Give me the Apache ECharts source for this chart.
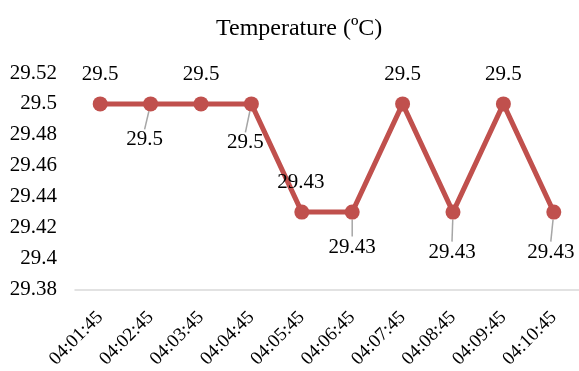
<!DOCTYPE html>
<html>
<head>
<meta charset="utf-8">
<script src="https://cdn.jsdelivr.net/npm/echarts@6/dist/echarts.min.js"></script>
<style>html,body{margin:0;padding:0;background:#fff}#c{width:579px;height:371px}</style>
</head>
<body>
<div id="c"></div>
<script>
const categories = ['04:01:45','04:02:45','04:03:45','04:04:45','04:05:45','04:06:45','04:07:45','04:08:45','04:09:45','04:10:45'];
const temperature = [29.5, 29.5, 29.5, 29.5, 29.43, 29.43, 29.5, 29.43, 29.5, 29.43];
const yMin = 29.38, yMax = 29.52, yStep = 0.02;
const titleText = 'Temperature (ºC)';

// label placement relative to point centre (style only)
const labelOffsets = [[0,-29],[-6,36],[0,-29],[-6,39],[-1,-30],[0,35],[0,-29],[-1,40],[0,-29],[-3,40]];
const font = 'Liberation Serif, Times New Roman, serif';

const chart = echarts.init(document.getElementById('c'), null, {renderer:'canvas'});
chart.setOption({
  backgroundColor: '#fff',
  animation: false,
  title: {
    text: titleText, left: 211, top: 12,
    textStyle: {fontFamily: font, fontSize: 24, fontWeight: 'normal', color: '#000'}
  },
  grid: {left: 75, top: 73, width: 505, height: 218, containLabel: false},
  xAxis: {
    type: 'category', data: categories, boundaryGap: true,
    axisLine: {lineStyle: {color: '#d9d9d9', width: 1.5}},
    axisTick: {show: false},
    axisLabel: {rotate: 45, fontFamily: font, fontSize: 19, color: '#000', margin: 25, interval: 0}
  },
  yAxis: {
    type: 'value', min: yMin, max: yMax, interval: yStep,
    axisLine: {show: false}, axisTick: {show: false}, splitLine: {show: false},
    axisLabel: {fontFamily: font, fontSize: 21, color: '#000', margin: 18,
      formatter: v => String(parseFloat(v.toFixed(2)))}
  },
  series: [{
    type: 'line',
    data: temperature.map((v, i) => ({
      value: v,
      labelLine: {show: labelOffsets[i][1] > 0}
    })),
    symbol: 'circle', symbolSize: 15,
    itemStyle: {color: '#c0504d'},
    lineStyle: {color: '#c0504d', width: 5},
    label: {show: true, fontFamily: font, fontSize: 21, color: '#000'},
    labelLine: {show: true, lineStyle: {color: '#a6a6a6', width: 1.5}},
    labelLayout: function (p) {
      const r = p.rect;
      const o = labelOffsets[p.dataIndex];
      return {x: r.x + r.width / 2 + o[0], y: r.y + r.height / 2 + o[1], align: 'center', verticalAlign: 'middle'};
    }
  }]
});
</script>
</body>
</html>
